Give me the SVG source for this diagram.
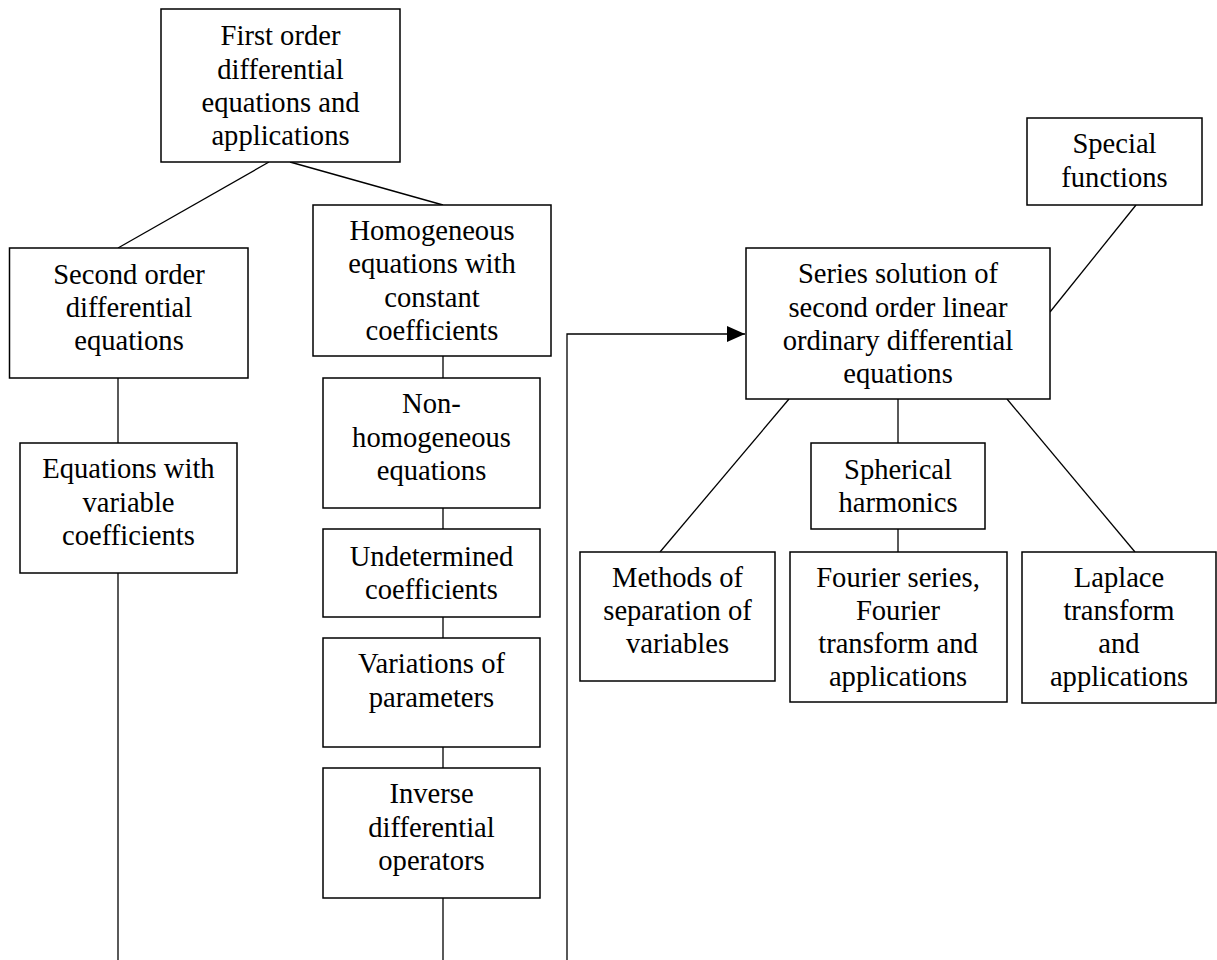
<svg xmlns="http://www.w3.org/2000/svg" width="1217" height="960" viewBox="0 0 1217 960">
<defs>
<style>
.box{fill:#fff;stroke:#000;stroke-width:1.5}
.t{font-family:"Liberation Serif","Times New Roman",serif;font-size:28.6px;fill:#000;text-anchor:middle}
.c{stroke:#000;stroke-width:1.3;fill:none}
</style>
<marker id="arr" markerUnits="userSpaceOnUse" markerWidth="20" markerHeight="20" refX="18" refY="8" orient="auto">
<path d="M0,0 L18,8 L0,16 Z" fill="#000"/>
</marker>
</defs>
<rect width="1217" height="960" fill="#fff"/>
<g id="connectors">
<line class="c" x1="269" y1="162" x2="118" y2="248"/>
<line class="c" x1="290" y1="162" x2="443" y2="205"/>
<line class="c" x1="118" y1="378" x2="118" y2="443"/>
<line class="c" x1="118" y1="573" x2="118" y2="960"/>
<line class="c" x1="443" y1="356" x2="443" y2="378"/>
<line class="c" x1="443" y1="508" x2="443" y2="529"/>
<line class="c" x1="443" y1="617" x2="443" y2="638"/>
<line class="c" x1="443" y1="747" x2="443" y2="768"/>
<line class="c" x1="443" y1="898" x2="443" y2="960"/>
<path class="c" d="M567,960 V334 H745" marker-end="url(#arr)"/>
<line class="c" x1="1136" y1="205" x2="1050" y2="312"/>
<line class="c" x1="789" y1="399" x2="660" y2="552"/>
<line class="c" x1="898" y1="399" x2="898" y2="443"/>
<line class="c" x1="898" y1="529" x2="898" y2="552"/>
<line class="c" x1="1007" y1="399" x2="1135" y2="552"/>
</g>
<g id="n1"><rect class="box" x="161" y="9" width="239" height="153"/>
<text class="t" x="280.5" y="45">First order</text><text class="t" x="280.5" y="79">differential</text><text class="t" x="280.5" y="112">equations and</text><text class="t" x="280.5" y="145">applications</text></g>
<g id="n2"><rect class="box" x="9.5" y="248" width="238.5" height="130"/>
<text class="t" x="129" y="284">Second order</text><text class="t" x="129" y="317">differential</text><text class="t" x="129" y="350">equations</text></g>
<g id="n3"><rect class="box" x="20" y="443" width="217" height="130"/>
<text class="t" x="128.5" y="478">Equations with</text><text class="t" x="128.5" y="512">variable</text><text class="t" x="128.5" y="545">coefficients</text></g>
<g id="n4"><rect class="box" x="313" y="205" width="238" height="151"/>
<text class="t" x="432" y="240">Homogeneous</text><text class="t" x="432" y="273">equations with</text><text class="t" x="432" y="307">constant</text><text class="t" x="432" y="340">coefficients</text></g>
<g id="n5"><rect class="box" x="323" y="378" width="217" height="130"/>
<text class="t" x="431.5" y="413">Non-</text><text class="t" x="431.5" y="447">homogeneous</text><text class="t" x="431.5" y="480">equations</text></g>
<g id="n6"><rect class="box" x="323" y="529" width="217" height="88"/>
<text class="t" x="431.5" y="566">Undetermined</text><text class="t" x="431.5" y="599">coefficients</text></g>
<g id="n7"><rect class="box" x="323" y="638" width="217" height="109"/>
<text class="t" x="431.5" y="673">Variations of</text><text class="t" x="431.5" y="707">parameters</text></g>
<g id="n8"><rect class="box" x="323" y="768" width="217" height="130"/>
<text class="t" x="431.5" y="803">Inverse</text><text class="t" x="431.5" y="837">differential</text><text class="t" x="431.5" y="870">operators</text></g>
<g id="n9"><rect class="box" x="746" y="248" width="304" height="151"/>
<text class="t" x="898" y="283">Series solution of</text><text class="t" x="898" y="317">second order linear</text><text class="t" x="898" y="350">ordinary differential</text><text class="t" x="898" y="383">equations</text></g>
<g id="n10"><rect class="box" x="1027" y="118" width="175" height="87"/>
<text class="t" x="1114.5" y="153">Special</text><text class="t" x="1114.5" y="187">functions</text></g>
<g id="n11"><rect class="box" x="811" y="443" width="174" height="86"/>
<text class="t" x="898" y="479">Spherical</text><text class="t" x="898" y="512">harmonics</text></g>
<g id="n12"><rect class="box" x="580" y="552" width="195" height="129"/>
<text class="t" x="677.5" y="587">Methods of</text><text class="t" x="677.5" y="620">separation of</text><text class="t" x="677.5" y="653">variables</text></g>
<g id="n13"><rect class="box" x="790" y="552" width="217" height="150"/>
<text class="t" x="898" y="587">Fourier series,</text><text class="t" x="898" y="620">Fourier</text><text class="t" x="898" y="653">transform and</text><text class="t" x="898" y="686">applications</text></g>
<g id="n14"><rect class="box" x="1022" y="552" width="194" height="151"/>
<text class="t" x="1119" y="587">Laplace</text><text class="t" x="1119" y="620">transform</text><text class="t" x="1119" y="653">and</text><text class="t" x="1119" y="686">applications</text></g>
</svg>
